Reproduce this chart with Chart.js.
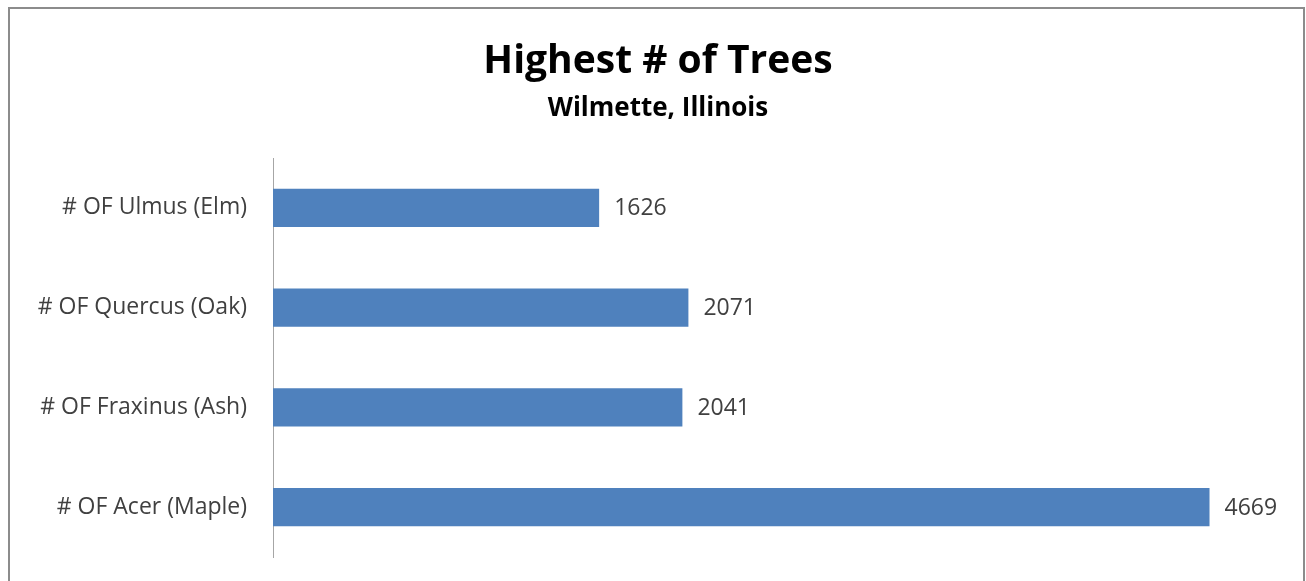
<!DOCTYPE html>
<html>
<head>
<meta charset="utf-8">
<script src="https://cdn.jsdelivr.net/npm/chart.js@4.4.0/dist/chart.umd.min.js"></script>
<style>
  html, body { margin: 0; padding: 0; background: #fff; }
  #wrap { position: relative; width: 1306px; height: 581px; overflow: hidden; }
  #frame { position: absolute; left: 8px; top: 7px; width: 1293px; height: 600px; border: 2px solid #8c8c8c; pointer-events: none; }
  canvas { position: absolute; left: 0; top: 0; }
</style>
</head>
<body>
<div id="wrap">
  <canvas id="treeChart" width="1306" height="581"></canvas>
  <div id="frame"></div>
</div>
<script>
const categories = ["# OF Ulmus (Elm)", "# OF Quercus (Oak)", "# OF Fraxinus (Ash)", "# OF Acer (Maple)"];
const treeCounts = [1626, 2071, 2041, 4669];
const chartTitle = "Highest # of Trees";
const chartSubtitle = "Wilmette, Illinois";

const FONT = "'Open Sans', sans-serif";

// value label at the end of each bar
const valueLabels = {
  id: "valueLabels",
  afterDatasetsDraw(chart) {
    const ctx = chart.ctx;
    const meta = chart.getDatasetMeta(0);
    ctx.save();
    ctx.font = "23px " + FONT;
    ctx.fillStyle = "#404040";
    ctx.textBaseline = "middle";
    ctx.textAlign = "left";
    meta.data.forEach((bar, i) => {
      ctx.fillText(String(treeCounts[i]), bar.x + 15, bar.y + 1);
    });
    ctx.restore();
  }
};

new Chart(document.getElementById("treeChart"), {
  type: "bar",
  data: {
    labels: categories,
    datasets: [{
      data: treeCounts,
      backgroundColor: "#4f81bd",
      borderWidth: 0,
      categoryPercentage: 1,
      barPercentage: 0.385
    }]
  },
  options: {
    indexAxis: "y",
    responsive: false,
    animation: false,
    layout: { padding: { top: 0, right: 0, bottom: 24, left: 10 } },
    scales: {
      x: { display: false, min: 0, max: 5150 },
      y: {
        grid: { display: false, drawTicks: false },
        border: { display: true, color: "#a6a6a6", width: 1 },
        ticks: { color: "#404040", font: { family: FONT, size: 23 }, padding: 26 },
        afterFit(scale) {
          scale.width = 263;
          scale.paddingTop = 0;
          scale.paddingBottom = 0;
        }
      }
    },
    plugins: {
      legend: { display: false },
      tooltip: { enabled: false },
      title: {
        display: true,
        text: chartTitle,
        color: "#000",
        font: { family: FONT, size: 39, weight: "bold" },
        padding: { top: 38, bottom: 8 }
      },
      subtitle: {
        display: true,
        text: chartSubtitle,
        color: "#000",
        font: { family: FONT, size: 26, weight: "bold" },
        padding: { top: 0, bottom: 34 }
      }
    }
  },
  plugins: [valueLabels]
});
</script>
</body>
</html>
